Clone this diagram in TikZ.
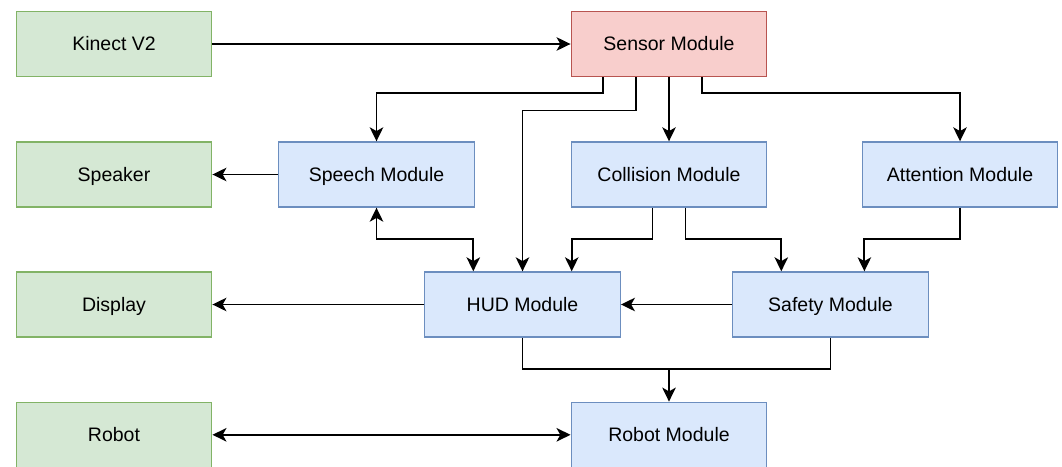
\documentclass[tikz,border=0pt]{standalone}
\usepackage{fontspec}
\setmainfont{Liberation Sans}
\usetikzlibrary{arrows.meta,calc}
\definecolor{gfill}{HTML}{D5E8D4}
\definecolor{gline}{HTML}{82B366}
\definecolor{rfill}{HTML}{F8CECC}
\definecolor{rline}{HTML}{B85450}
\definecolor{bfill}{HTML}{DAE8FC}
\definecolor{bline}{HTML}{6C8EBF}
\tikzset{
  box/.style={draw, line width=1.4pt, minimum width=195.5pt, minimum height=65pt, inner sep=0pt, text height=14pt, text depth=1pt, font=\fontsize{19.5pt}{23pt}\selectfont},
  gbox/.style={box, fill=gfill, draw=gline},
  rbox/.style={box, fill=rfill, draw=rline},
  bbox/.style={box, fill=bfill, draw=bline},
  tip/.tip={Stealth[length=14pt,width=13.5pt,inset=3.8pt]},
  arr/.style={line width=1.8pt, -tip},
  darr/.style={line width=1.8pt, tip-tip},
  ln/.style={line width=1.8pt}
}
\begin{document}
\begin{tikzpicture}[x=1pt,y=-1pt]
\useasboundingbox (0,0) rectangle (1062,466);
\node[gbox] (kinect) at (114,44) {Kinect V2};
\node[rbox] (sensor) at (669,44) {Sensor Module};
\node[gbox] (speaker) at (114,174.5) {Speaker};
\node[bbox] (speech) at (376.5,174.5) {Speech Module};
\node[bbox] (collision) at (669,174.5) {Collision Module};
\node[bbox] (attention) at (960,174.5) {Attention Module};
\node[gbox] (display) at (114,304.5) {Display};
\node[bbox] (hud) at (522.5,304.5) {HUD Module};
\node[bbox] (safety) at (830.5,304.5) {Safety Module};
\node[gbox] (robot) at (114,434.8) {Robot};
\node[bbox] (robotmod) at (669,434.8) {Robot Module};

% Kinect -> Sensor
\draw[arr] (kinect.east) -- (sensor.west);
% Sensor ports
\coordinate (s1) at ($(sensor.south west)!1/6!(sensor.south east)$);
\coordinate (s2) at ($(sensor.south west)!2/6!(sensor.south east)$);
\coordinate (s4) at ($(sensor.south west)!4/6!(sensor.south east)$);
\draw[arr] (s1) |- (376.5,92.7) -- (speech.north);
\coordinate (h2) at (hud.north);
\draw[arr] (s2) -- ++(0,33.3) -| (h2);
\draw[arr] (sensor.south) -- (collision.north);
\draw[arr] (s4) |- (960,92.7) -- (attention.north);
% Speech -> Speaker
\draw[arr] (speech.west) -- (speaker.east);
% Speech <-> HUD
\coordinate (h1) at ($(hud.north west)!1/4!(hud.north east)$);
\coordinate (h3) at ($(hud.north west)!3/4!(hud.north east)$);
\draw[darr] (speech.south) |- (h1 |- 0,239.3) -- (h1);
% Collision -> HUD, Safety
\coordinate (c1) at ($(collision.south west)!5/12!(collision.south east)$);
\coordinate (c2) at ($(collision.south west)!7/12!(collision.south east)$);
\coordinate (f1) at ($(safety.north west)!1/4!(safety.north east)$);
\coordinate (f2) at ($(safety.north west)!0.672!(safety.north east)$);
\draw[arr] (c1) |- (h3 |- 0,239.3) -- (h3);
\draw[arr] (c2) |- (f1 |- 0,239.3) -- (f1);
% Attention -> Safety
\draw[arr] (attention.south) |- (f2 |- 0,239.3) -- (f2);
% Safety -> HUD, HUD -> Display
\draw[arr] (safety.west) -- (hud.west -| hud.east);
\draw[arr] (hud.west) -- (display.east);
% HUD, Safety -> Robot Module
\coordinate (j) at (669,369.3);
\draw[ln] (hud.south) |- (j);
\draw[ln] (safety.south) |- (j);
\draw[arr] (j) -- (robotmod.north);
% Robot <-> Robot Module
\draw[darr] (robot.east) -- (robotmod.west);
\end{tikzpicture}
\end{document}
